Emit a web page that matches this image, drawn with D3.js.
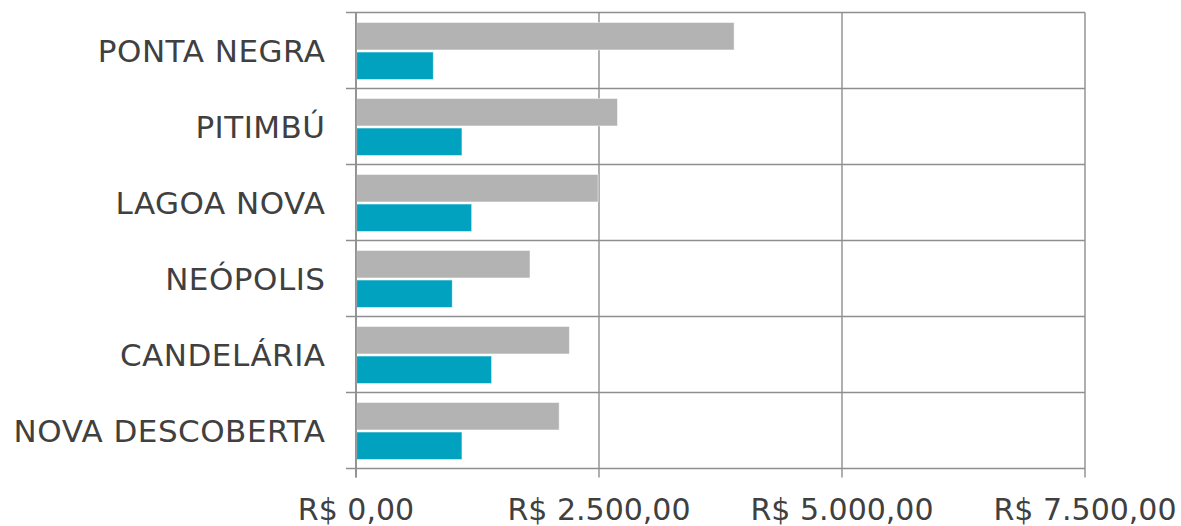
<!DOCTYPE html>
<html>
<head>
<meta charset="utf-8">
<script src="https://cdn.jsdelivr.net/npm/d3@7"></script>
<style>
  html, body { margin: 0; padding: 0; background: #fff; }
  svg text { font-family: "DejaVu Sans", sans-serif; fill: #404040; }
</style>
</head>
<body>
<svg id="chart" width="1181" height="526"></svg>
<script>
// Neighbourhoods, top to bottom
const categories = ["PONTA NEGRA", "PITIMBÚ", "LAGOA NOVA", "NEÓPOLIS", "CANDELÁRIA", "NOVA DESCOBERTA"];
// Upper (gray) series values in R$
const seriesGray = [3890, 2690, 2490, 1790, 2195, 2090];
// Lower (teal) series values in R$
const seriesTeal = [795, 1090, 1190, 990, 1395, 1090];
const seriesNames = ["gray", "teal"];
const xTicks = [0, 2500, 5000, 7500];

const svg = d3.select("#chart");
const margin = { left: 356, right: 96, top: 12.5, bottom: 57.5 };
const W = 1181, H = 526;

const x = d3.scaleLinear().domain([0, 7500]).range([margin.left, W - margin.right]);
const y = d3.scaleBand().domain(categories).range([margin.top, H - margin.bottom]).padding(0);
const inner = d3.scaleBand().domain(seriesNames).range([10, 67]).paddingInner(0.07);
const colors = { gray: "#b3b3b3", teal: "#00a2c0" };

const fmt = v => "R$ " + d3.format(",.2f")(v).replace(/,/g, "#").replace(/\./g, ",").replace(/#/g, ".");

const gridColor = "#8e8e8e";

// Horizontal category separators (with outer tick to the left)
const bounds = categories.map(c => y(c)).concat([y(categories[categories.length - 1]) + y.bandwidth()]);
svg.append("g").selectAll("line").data(bounds).join("line")
  .attr("x1", margin.left - 10).attr("x2", x(7500))
  .attr("y1", d => d).attr("y2", d => d)
  .attr("stroke", gridColor).attr("stroke-width", 1.4);

// Vertical grid lines (with ticks below the plot)
svg.append("g").selectAll("line").data(xTicks).join("line")
  .attr("x1", d => x(d)).attr("x2", d => x(d))
  .attr("y1", margin.top).attr("y2", H - margin.bottom + 9)
  .attr("stroke", gridColor).attr("stroke-width", 1.4);

// Bars
const rows = categories.map((c, i) => ({ c, gray: seriesGray[i], teal: seriesTeal[i] }));
const groups = svg.append("g").selectAll("g").data(rows).join("g")
  .attr("transform", d => `translate(0,${y(d.c)})`);
groups.selectAll("rect").data(d => seriesNames.map(k => ({ k, v: d[k] }))).join("rect")
  .attr("x", x(0) + 0.7)
  .attr("y", d => inner(d.k))
  .attr("width", d => x(d.v) - x(0) - 0.7)
  .attr("height", inner.bandwidth())
  .attr("fill", d => colors[d.k])
  .attr("stroke", "#ffffff").attr("stroke-opacity", 0.6).attr("stroke-width", 0.8);

// Axis line redrawn over bars
svg.append("line")
  .attr("x1", x(0)).attr("x2", x(0))
  .attr("y1", margin.top).attr("y2", H - margin.bottom + 9)
  .attr("stroke", gridColor).attr("stroke-width", 1.6);

// Category labels
svg.append("g").selectAll("text").data(categories).join("text")
  .attr("x", 325.5)
  .attr("y", d => y(d) + y.bandwidth() / 2 + 11.5)
  .attr("text-anchor", "end")
  .attr("font-size", 31)
  .attr("letter-spacing", 0.5)
  .text(d => d);

// X tick labels
svg.append("g").selectAll("text").data(xTicks).join("text")
  .attr("x", d => x(d))
  .attr("y", 520)
  .attr("text-anchor", "middle")
  .attr("font-size", 30)
  .text(d => fmt(d));
</script>
</body>
</html>
